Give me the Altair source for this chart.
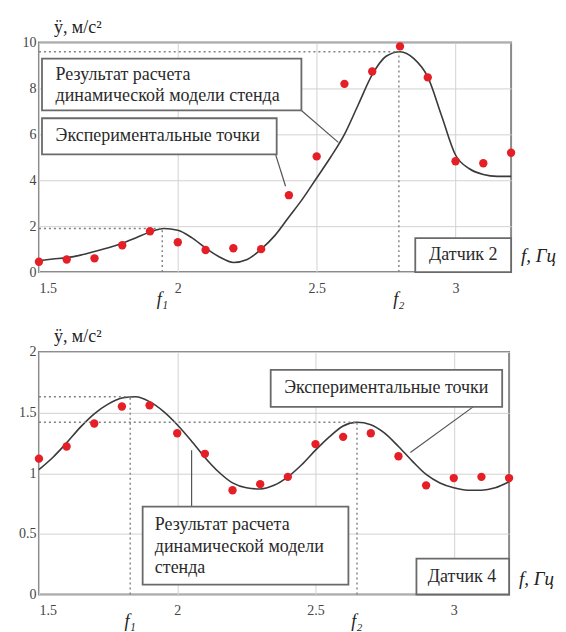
import altair as alt
import pandas as pd

FONT = "Liberation Serif"
RED = "#e41f26"
LINE = "#3a3a3a"
BOX = "#6a6a6a"

# ---- data ----
f_pts = [1.5, 1.6, 1.7, 1.8, 1.9, 2.0, 2.1, 2.2, 2.3, 2.4, 2.5, 2.6, 2.7, 2.8, 2.9, 3.0, 3.1, 3.2]
top_pts = [0.45, 0.55, 0.6, 1.17, 1.78, 1.3, 0.96, 1.04, 1.0, 3.35, 5.04, 8.2, 8.74, 9.83, 8.48, 4.83, 4.74, 5.2]
bot_pts = [1.12, 1.22, 1.41, 1.55, 1.56, 1.33, 1.16, 0.86, 0.91, 0.97, 1.24, 1.30, 1.33, 1.14, 0.90, 0.96, 0.97, 0.96]

f_curve = [1.50, 1.55, 1.60, 1.65, 1.70, 1.75, 1.80, 1.85, 1.90, 1.95, 2.00, 2.05,
           2.10, 2.15, 2.20, 2.25, 2.30, 2.35, 2.40, 2.45, 2.50, 2.55, 2.60, 2.65,
           2.70, 2.75, 2.80, 2.85, 2.90, 2.95, 3.00, 3.05, 3.10, 3.15, 3.20]
top_curve = [0.5, 0.57, 0.63, 0.74, 0.9, 1.06, 1.26, 1.5, 1.75, 1.9, 1.82, 1.5,
             1.05, 0.66, 0.42, 0.55, 1.0, 1.6, 2.4, 3.2, 4.1, 5.0, 6.0, 7.3,
             8.6, 9.4, 9.6, 9.3, 8.5, 6.8, 5.1, 4.5, 4.25, 4.17, 4.17]
bot_curve = [1.03, 1.13, 1.25, 1.38, 1.49, 1.57, 1.62, 1.63, 1.59, 1.51, 1.40, 1.27,
             1.13, 1.01, 0.92, 0.88, 0.87, 0.90, 0.97, 1.07, 1.19, 1.30, 1.39, 1.42,
             1.40, 1.33, 1.22, 1.10, 0.99, 0.92, 0.88, 0.86, 0.86, 0.88, 0.93]

x_ticks = [1.5, 2, 2.5, 3]
top_y_ticks = [0, 2, 4, 6, 8, 10]
bot_y_ticks = [0, 0.5, 1, 1.5, 2]

top_marks = dict(f1=1.944, f2=2.796, a1=1.9, a2=9.6)
bot_marks = dict(f1=1.83, f2=2.65, a1=1.63, a2=1.42)

# annotation boxes (data units): x, x2, y, y2
top_boxes = pd.DataFrame({"x": [1.511, 1.511, 2.855], "x2": [2.445, 2.356, 3.2],
                          "y": [7.04, 5.13, 0.0], "y2": [9.30, 6.70, 1.48]})
top_left_text = pd.DataFrame({"x": [1.56, 1.56, 1.56], "y": [8.6, 7.65, 5.91],
                              "t": ["Результат расчета", "динамической модели стенда", "Экспериментальные точки"]})
top_center_text = pd.DataFrame({"x": [3.028], "y": [0.74], "t": ["Датчик 2"]})
top_leaders = pd.DataFrame({"x": [2.445, 2.352], "x2": [2.578, 2.388], "y": [7.04, 5.13], "y2": [5.65, 3.74]})

bot_boxes = pd.DataFrame({"x": [2.338, 1.875, 2.865], "x2": [3.175, 2.619, 3.2],
                          "y": [1.547, 0.082, 0.0], "y2": [1.852, 0.724, 0.296]})
bot_left_text = pd.DataFrame({"x": [1.919, 1.919, 1.919], "y": [0.576, 0.395, 0.222],
                              "t": ["Результат расчета", "динамической модели", "стенда"]})
bot_center_text = pd.DataFrame({"x": [2.756, 3.03], "y": [1.70, 0.148],
                                "t": ["Экспериментальные точки", "Датчик 4"]})
bot_leaders = pd.DataFrame({"x": [3.07, 2.052], "x2": [2.843, 2.052], "y": [1.547, 0.724], "y2": [1.17, 1.19]})


def panel(curve_y, pts_y, y_dom, y_ticks, m, boxes, ltext, ctext, leaders, W, H, ypad, ext):
    xs = alt.Scale(domain=[1.5, 3.2], nice=False, zero=False)
    ys = alt.Scale(domain=y_dom, nice=False, zero=False)
    xax = alt.Axis(values=x_ticks, labelExpr="'' + datum.value", title=None, grid=True,
                   domain=False, ticks=False, labelPadding=9)
    yax = alt.Axis(values=y_ticks, labelExpr="'' + datum.value", title=None, grid=True,
                   domain=False, ticks=False, labelPadding=ypad, minExtent=ext, maxExtent=ext)

    def X(field="x:Q"):
        return alt.X(field, scale=xs, axis=xax)

    def Y(field="y:Q"):
        return alt.Y(field, scale=ys, axis=yax)

    curve = alt.Chart(pd.DataFrame({"x": f_curve, "y": curve_y})).mark_line(
        color=LINE, strokeWidth=1.6, interpolate="monotone"
    ).encode(x=X(), y=Y())

    guides = pd.DataFrame({"x": [1.5, 1.5, m["f1"], m["f2"]], "x2": [m["f1"], m["f2"], m["f1"], m["f2"]],
                           "y": [m["a1"], m["a2"], 0, 0], "y2": [m["a1"], m["a2"], m["a1"], m["a2"]]})
    guide = alt.Chart(guides).mark_rule(color="#808080", strokeDash=[2, 3], strokeWidth=1.4).encode(
        x=X(), x2="x2:Q", y=Y(), y2="y2:Q")

    pts = alt.Chart(pd.DataFrame({"x": f_pts, "y": pts_y})).mark_circle(
        color=RED, size=70, opacity=1
    ).encode(x=X(), y=Y())

    lead = alt.Chart(leaders).mark_rule(color="#555555", strokeWidth=1.2).encode(
        x=X(), x2="x2:Q", y=Y(), y2="y2:Q")

    box = alt.Chart(boxes).mark_rect(fill="white", stroke=BOX, strokeWidth=1.8).encode(
        x=X(), x2="x2:Q", y=Y(), y2="y2:Q")

    lt = alt.Chart(ltext).mark_text(align="left", baseline="middle", font=FONT, fontSize=18,
                                    color="#2a2a2a").encode(x=X(), y=Y(), text="t:N")
    ct = alt.Chart(ctext).mark_text(align="center", baseline="middle", font=FONT, fontSize=18,
                                    color="#2a2a2a").encode(x=X(), y=Y(), text="t:N")

    ttl = alt.Chart(pd.DataFrame({"t": ["ÿ, м/с²"]})).mark_text(
        align="left", baseline="middle", font=FONT, fontSize=18, color="#222222"
    ).encode(x=alt.value(15), y=alt.value(-15), text="t:N")

    flab = alt.Chart(pd.DataFrame({"x": [m["f1"], m["f2"]], "t": ["f₁", "f₂"]})).mark_text(
        align="center", baseline="middle", font=FONT, fontSize=18, fontStyle="italic", color="#222222"
    ).encode(x=X(), y=alt.value(H + 28), text="t:N")

    fgz = alt.Chart(pd.DataFrame({"t": ["f, Гц"]})).mark_text(
        align="left", baseline="middle", font=FONT, fontSize=19, fontStyle="italic", color="#222222"
    ).encode(x=alt.value(W + 10), y=alt.value(H - 16), text="t:N")

    return alt.layer(curve, guide, pts, lead, box, lt, ct, ttl, flab, fgz).properties(width=W, height=H)


top = panel(top_curve, top_pts, [0, 10], top_y_ticks, top_marks, top_boxes,
            top_left_text, top_center_text, top_leaders, 473, 230, 3, 22)
bottom = panel(bot_curve, bot_pts, [0, 2], bot_y_ticks, bot_marks, bot_boxes,
               bot_left_text, bot_center_text, bot_leaders, 471, 243, 3, 30)

chart = alt.concat(top, bottom, columns=1, spacing=17, align="none").properties(
    padding={"left": 0, "top": 9, "right": 0, "bottom": 0}
).configure_view(
    stroke="#8a8a8a", strokeWidth=2
).configure_axis(
    labelFont=FONT, labelFontSize=14, labelColor="#444444",
    gridColor="#d2d2d2", gridWidth=1
)

chart.save("out.html", embed_options={"renderer": "svg", "actions": False})
